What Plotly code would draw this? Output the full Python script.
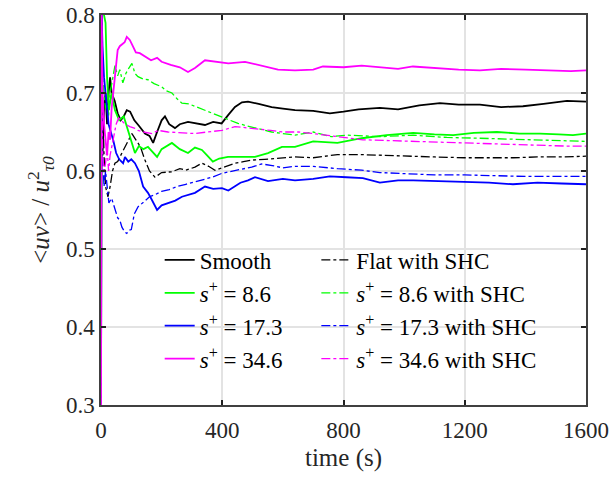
import plotly.graph_objects as go

# ---- data ----
t_smooth = [0, 2, 5, 10, 15, 20, 25, 30, 35, 45, 55, 65, 75, 85, 96, 110, 125, 145, 160, 172, 185, 200, 211, 225, 244, 260, 287, 310, 343, 370, 398, 420, 442, 465, 485, 520, 563, 600, 640, 700, 755, 800, 850, 920, 980, 1050, 1118, 1180, 1250, 1320, 1392, 1460, 1537, 1600]
y_smooth = [0.29, 0.80, 0.62, 0.68, 0.70, 0.66, 0.70, 0.72, 0.70, 0.69, 0.674, 0.665, 0.670, 0.678, 0.676, 0.665, 0.658, 0.648, 0.645, 0.636, 0.650, 0.665, 0.670, 0.660, 0.655, 0.660, 0.663, 0.661, 0.659, 0.663, 0.661, 0.672, 0.682, 0.688, 0.689, 0.686, 0.682, 0.680, 0.678, 0.677, 0.674, 0.676, 0.679, 0.681, 0.679, 0.684, 0.687, 0.685, 0.685, 0.682, 0.683, 0.686, 0.690, 0.689]

t_flat_shc = [0, 2, 5, 10, 15, 23, 30, 38, 46, 55, 65, 79, 90, 102, 115, 130, 145, 160, 178, 200, 234, 260, 280, 310, 333, 355, 376, 410, 442, 470, 497, 540, 573, 600, 640, 700, 780, 860, 940, 1030, 1100, 1200, 1280, 1360, 1440, 1520, 1600]
y_flat_shc = [0.29, 0.80, 0.70, 0.62, 0.58, 0.567, 0.58, 0.600, 0.610, 0.612, 0.620, 0.631, 0.640, 0.648, 0.640, 0.631, 0.614, 0.600, 0.592, 0.598, 0.599, 0.603, 0.601, 0.605, 0.610, 0.606, 0.601, 0.606, 0.610, 0.612, 0.614, 0.615, 0.616, 0.617, 0.618, 0.617, 0.621, 0.621, 0.620, 0.618, 0.618, 0.617, 0.617, 0.617, 0.618, 0.618, 0.619]

t_s86 = [0, 2, 5, 10, 15, 20, 26, 35, 46, 60, 75, 89, 100, 112, 125, 140, 155, 170, 185, 200, 215, 234, 260, 287, 310, 333, 350, 369, 390, 419, 460, 508, 551, 597, 640, 700, 780, 860, 942, 1030, 1100, 1162, 1230, 1306, 1380, 1448, 1510, 1557, 1600]
y_s86 = [0.29, 0.80, 0.82, 0.80, 0.79, 0.72, 0.678, 0.70, 0.678, 0.665, 0.670, 0.652, 0.640, 0.623, 0.632, 0.628, 0.631, 0.625, 0.618, 0.628, 0.632, 0.636, 0.628, 0.623, 0.630, 0.627, 0.620, 0.612, 0.616, 0.618, 0.618, 0.618, 0.623, 0.631, 0.631, 0.638, 0.636, 0.642, 0.646, 0.649, 0.647, 0.646, 0.649, 0.650, 0.648, 0.648, 0.647, 0.646, 0.648]

t_s86_shc = [0, 2, 5, 10, 15, 20, 25, 30, 40, 46, 55, 62, 72, 82, 92, 102, 112, 122, 138, 155, 175, 200, 215, 234, 250, 267, 290, 310, 340, 366, 399, 425, 452, 480, 508, 563, 600, 640, 700, 760, 811, 870, 920, 1030, 1141, 1250, 1330, 1425, 1500, 1600]
y_s86_shc = [0.29, 0.80, 0.72, 0.70, 0.68, 0.69, 0.67, 0.70, 0.72, 0.735, 0.722, 0.730, 0.713, 0.725, 0.732, 0.738, 0.725, 0.721, 0.718, 0.717, 0.712, 0.708, 0.703, 0.700, 0.693, 0.687, 0.686, 0.683, 0.678, 0.674, 0.669, 0.666, 0.661, 0.658, 0.655, 0.650, 0.648, 0.646, 0.650, 0.644, 0.646, 0.645, 0.644, 0.646, 0.643, 0.642, 0.641, 0.640, 0.639, 0.638]

t_s173 = [0, 2, 5, 10, 15, 20, 25, 33, 40, 50, 60, 73, 79, 90, 100, 112, 125, 139, 155, 165, 178, 185, 200, 221, 245, 267, 290, 310, 343, 370, 399, 420, 460, 485, 508, 551, 600, 640, 700, 755, 810, 864, 920, 980, 1030, 1110, 1195, 1280, 1359, 1440, 1520, 1600]
y_s173 = [0.29, 0.80, 0.76, 0.72, 0.70, 0.68, 0.66, 0.649, 0.640, 0.623, 0.615, 0.610, 0.618, 0.612, 0.615, 0.610, 0.600, 0.580, 0.572, 0.565, 0.554, 0.550, 0.556, 0.559, 0.562, 0.567, 0.570, 0.572, 0.580, 0.577, 0.578, 0.575, 0.585, 0.588, 0.592, 0.587, 0.590, 0.588, 0.590, 0.593, 0.592, 0.591, 0.585, 0.588, 0.588, 0.587, 0.586, 0.585, 0.583, 0.585, 0.584, 0.583]

t_s173_shc = [0, 2, 5, 10, 15, 20, 26, 35, 46, 55, 62, 69, 78, 85, 92, 100, 110, 122, 140, 160, 180, 200, 225, 250, 280, 310, 340, 366, 399, 430, 460, 497, 530, 565, 600, 640, 700, 780, 860, 920, 1000, 1100, 1200, 1300, 1400, 1500, 1600]
y_s173_shc = [0.29, 0.80, 0.62, 0.58, 0.60, 0.58, 0.559, 0.565, 0.550, 0.540, 0.537, 0.528, 0.522, 0.520, 0.524, 0.525, 0.545, 0.554, 0.560, 0.567, 0.570, 0.574, 0.576, 0.580, 0.583, 0.586, 0.589, 0.592, 0.597, 0.600, 0.602, 0.605, 0.609, 0.607, 0.604, 0.606, 0.606, 0.603, 0.601, 0.598, 0.597, 0.595, 0.595, 0.594, 0.593, 0.593, 0.593]

t_s346 = [0, 2, 5, 10, 15, 20, 25, 30, 35, 40, 45, 50, 55, 62, 70, 78, 85, 95, 105, 115, 128, 145, 165, 185, 200, 230, 260, 287, 310, 343, 380, 420, 475, 530, 584, 640, 700, 732, 800, 860, 920, 980, 1029, 1100, 1180, 1250, 1320, 1400, 1480, 1550, 1600]
y_s346 = [0.29, 0.80, 0.70, 0.66, 0.64, 0.62, 0.65, 0.64, 0.68, 0.70, 0.72, 0.742, 0.755, 0.760, 0.762, 0.765, 0.772, 0.768, 0.760, 0.752, 0.751, 0.747, 0.742, 0.745, 0.740, 0.736, 0.733, 0.727, 0.732, 0.742, 0.740, 0.738, 0.740, 0.735, 0.730, 0.729, 0.730, 0.734, 0.733, 0.735, 0.733, 0.731, 0.734, 0.732, 0.730, 0.729, 0.731, 0.730, 0.729, 0.728, 0.729]

t_s346_shc = [0, 2, 5, 10, 15, 20, 25, 30, 40, 50, 58, 66, 80, 95, 110, 122, 140, 168, 190, 221, 260, 310, 350, 399, 442, 500, 560, 600, 650, 700, 760, 864, 950, 1030, 1130, 1250, 1350, 1450, 1530, 1600]
y_s346_shc = [0.29, 0.80, 0.62, 0.60, 0.61, 0.63, 0.60, 0.62, 0.64, 0.66, 0.668, 0.665, 0.660, 0.657, 0.655, 0.652, 0.650, 0.648, 0.652, 0.650, 0.649, 0.648, 0.650, 0.652, 0.657, 0.655, 0.652, 0.650, 0.650, 0.648, 0.645, 0.640, 0.639, 0.638, 0.637, 0.636, 0.634, 0.633, 0.632, 0.632]

x_ticks = [0, 400, 800, 1200, 1600]
y_ticks = [0.3, 0.4, 0.5, 0.6, 0.7, 0.8]

series = [
    ("Smooth", t_smooth, y_smooth, "#000000", "solid", "legend"),
    ("Flat with SHC", t_flat_shc, y_flat_shc, "#000000", "dashdot", "legend2"),
    ("<i>s</i><sup>+</sup> = 8.6", t_s86, y_s86, "#00ff00", "solid", "legend"),
    ("<i>s</i><sup>+</sup> = 8.6 with SHC", t_s86_shc, y_s86_shc, "#00ff00", "dashdot", "legend2"),
    ("<i>s</i><sup>+</sup> = 17.3", t_s173, y_s173, "#0000ff", "solid", "legend"),
    ("<i>s</i><sup>+</sup> = 17.3 with SHC", t_s173_shc, y_s173_shc, "#0000ff", "dashdot", "legend2"),
    ("<i>s</i><sup>+</sup> = 34.6", t_s346, y_s346, "#ff00ff", "solid", "legend"),
    ("<i>s</i><sup>+</sup> = 34.6 with SHC", t_s346_shc, y_s346_shc, "#ff00ff", "dashdot", "legend2"),
]

fig = go.Figure()
for name, t, y, c, d, lg in series:
    fig.add_trace(go.Scatter(
        x=t, y=y, mode="lines", name=name, legend=lg,
        line=dict(color=c, dash=d, width=1.8 if d == "solid" else 1.3),
    ))

font_family = "Times New Roman, Liberation Serif, serif"
FS = 23
axis_common = dict(
    showline=True, linecolor="#404040", linewidth=1.5, mirror="ticks",
    ticks="inside", ticklen=5, tickcolor="#202020", tickwidth=1.5,
    showgrid=True, gridcolor="#e3e3e3", gridwidth=1.5, automargin=False,
    zeroline=False, tickfont=dict(family=font_family, size=FS, color="#262626"),
)

legend_common = dict(
    orientation="v", xanchor="left", y=0.427, yanchor="top",
    bgcolor="rgba(0,0,0,0)", borderwidth=0,
    font=dict(family=font_family, size=FS, color="#000000"),
    tracegroupgap=0,
)

fig.update_layout(
    width=611, height=478,
    margin=dict(l=101, r=25, t=15, b=73, autoexpand=False),
    paper_bgcolor="white", plot_bgcolor="white",
    font=dict(family=font_family, size=FS, color="#262626"),
    xaxis=dict(range=[0, 1600], tickvals=x_ticks, ticklabelstandoff=4,
               title=dict(text="time (s)", standoff=6,
                          font=dict(family=font_family, size=FS + 2)), **axis_common),
    yaxis=dict(range=[0.3, 0.8], tickvals=y_ticks, tickformat=".1f",
               title=dict(text="&lt;<i>uv</i>&gt; / <i>u</i><sup>2</sup><sub><i>τ0</i></sub>", standoff=9,
                          font=dict(family=font_family, size=FS + 2)), **axis_common),
    legend=dict(x=0.121, **legend_common),
    legend2=dict(x=0.444, **legend_common),
    showlegend=True,
)

fig.write_html("out.html")
